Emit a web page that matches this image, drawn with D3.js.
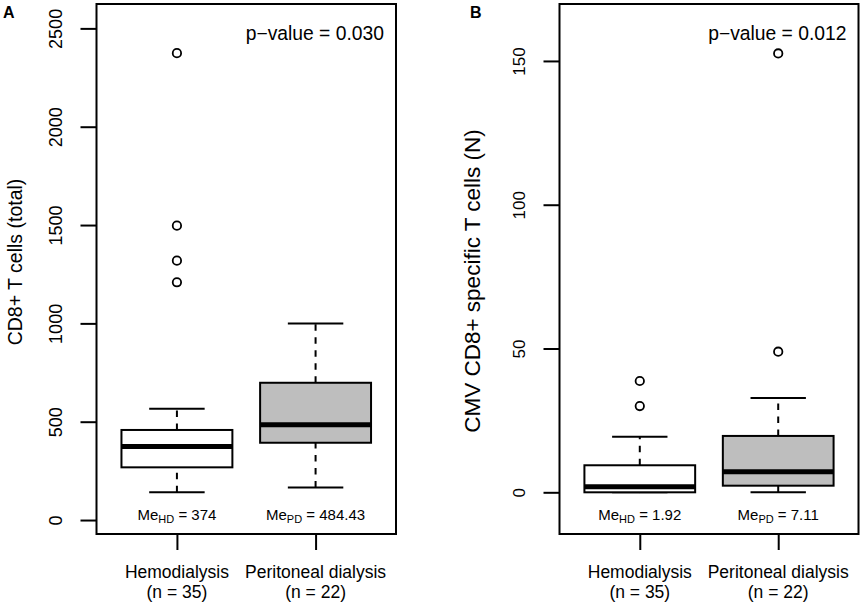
<!DOCTYPE html>
<html>
<head>
<meta charset="utf-8">
<script src="https://cdn.jsdelivr.net/npm/d3@7"></script>
<style>
  body { margin: 0; background: #fff; }
  svg { display: block; font-family: "Liberation Sans", Arial, sans-serif; }
</style>
</head>
<body>
<svg width="862" height="605"></svg>
<script>
// groups shared by both panels
const groups = ["Hemodialysis", "Peritoneal dialysis"];
const groupN = [35, 22];
const groupAbbr = ["HD", "PD"];

// panel A: CD8+ T cells (total), [low whisker, q1, median, q3, high whisker]
const totalStats = [
  [141, 268, 374, 458, 566],
  [166, 393, 484.43, 698, 1000]
];
const totalOutliers = [[2374, 1497, 1319, 1209], []];
const totalMedianLabels = ["374", "484.43"];
const totalTicks = [0, 500, 1000, 1500, 2000, 2500];

// panel B: CMV CD8+ specific T cells (N)
const cmvStats = [
  [0, 0, 1.92, 9.4, 19.3],
  [0, 2.3, 7.11, 19.6, 32.8]
];
const cmvOutliers = [[38.7, 30], [48.9, 152.6]];
const cmvMedianLabels = ["1.92", "7.11"];
const cmvTicks = [0, 50, 100, 150];

const svg = d3.select("svg");

function drawPanel(opt) {
  const top = 4, bottom = 534;
  const g = svg.append("g");

  const x = d3.scaleLinear().domain([0.42, 2.58]).range([opt.left, opt.right]);
  const y = d3.scaleLinear().domain(opt.yDomain).range([bottom, top]);
  const boxW = x(1.8) - x(1); // box width 0.8 units, like R boxplot
  const capW = boxW / 2;

  // y axis
  const yAxis = d3.axisLeft(y)
    .tickValues(opt.ticks)
    .tickFormat(d3.format("d"))
    .tickSize(16)
    .tickSizeOuter(0);
  const ya = g.append("g")
    .attr("transform", "translate(" + opt.left + ",0)")
    .call(yAxis);
  ya.select(".domain").remove();
  ya.selectAll("line").attr("stroke", "#000").attr("stroke-width", 2);
  ya.selectAll("text")
    .attr("transform", "rotate(-90)")
    .attr("x", 0)
    .attr("y", -34.5)
    .attr("dy", 0)
    .attr("text-anchor", "middle")
    .attr("fill", "#000")
    .style("font-size", opt.tickFont + "px")
    .style("font-family", "Liberation Sans, Arial, sans-serif");

  // x axis ticks
  const xa = g.append("g")
    .attr("transform", "translate(0," + bottom + ")")
    .call(d3.axisBottom(x).tickValues([1, 2]).tickSize(16).tickSizeOuter(0).tickFormat(""));
  xa.select(".domain").remove();
  xa.selectAll("line").attr("stroke", "#000").attr("stroke-width", 2);

  groups.forEach(function (name, i) {
    const lab = g.append("text")
      .attr("x", x(i + 1))
      .attr("y", 577.5)
      .attr("text-anchor", "middle")
      .style("font-size", "17.5px");
    lab.append("tspan").attr("x", x(i + 1)).text(name);
    lab.append("tspan").attr("x", x(i + 1)).attr("dy", 20.5).text("(n = " + groupN[i] + ")");
  });

  // boxes
  const boxes = g.selectAll(".box")
    .data(opt.stats)
    .enter()
    .append("g")
    .attr("class", "box");

  boxes.each(function (d, i) {
    const b = d3.select(this);
    const cx = x(i + 1);
    // whiskers
    [[d[0], d[1]], [d[3], d[4]]].forEach(function (w) {
      b.append("line")
        .attr("x1", cx).attr("x2", cx)
        .attr("y1", y(w[0])).attr("y2", y(w[1]))
        .attr("stroke", "#000").attr("stroke-width", 2)
        .attr("stroke-dasharray", "6.5,6.5");
    });
    [d[0], d[4]].forEach(function (v) {
      b.append("line")
        .attr("x1", cx - capW / 2).attr("x2", cx + capW / 2)
        .attr("y1", y(v)).attr("y2", y(v))
        .attr("stroke", "#000").attr("stroke-width", 2);
    });
    b.append("rect")
      .attr("x", cx - boxW / 2)
      .attr("y", y(d[3]))
      .attr("width", boxW)
      .attr("height", y(d[1]) - y(d[3]))
      .attr("fill", i === 0 ? "#fff" : "#bebebe")
      .attr("stroke", "#000").attr("stroke-width", 2);
    b.append("line")
      .attr("x1", cx - boxW / 2).attr("x2", cx + boxW / 2)
      .attr("y1", y(d[2])).attr("y2", y(d[2]))
      .attr("stroke", "#000").attr("stroke-width", 5);
  });

  // outliers
  opt.outliers.forEach(function (arr, i) {
    g.selectAll(null)
      .data(arr)
      .enter()
      .append("circle")
      .attr("cx", x(i + 1))
      .attr("cy", function (v) { return y(v); })
      .attr("r", 4.2)
      .attr("fill", "none")
      .attr("stroke", "#000")
      .attr("stroke-width", 1.8);
  });

  // median labels
  opt.medianLabels.forEach(function (m, i) {
    const t = g.append("text")
      .attr("x", x(i + 1))
      .attr("y", 519.5)
      .attr("text-anchor", "middle")
      .style("font-size", "15px");
    t.append("tspan").text("Me");
    t.append("tspan").attr("dy", 3.5).style("font-size", "11px").text(groupAbbr[i]);
    t.append("tspan").attr("dy", -3.5).text(" = " + m);
  });

  // frame
  g.append("rect")
    .attr("x", opt.left).attr("y", top)
    .attr("width", opt.right - opt.left).attr("height", bottom - top)
    .attr("fill", "none").attr("stroke", "#000").attr("stroke-width", 2);

  // p-value
  g.append("text")
    .attr("x", opt.right - 12)
    .attr("y", 39.5)
    .attr("text-anchor", "end")
    .style("font-size", "19.3px")
    .text("p\u2212value = " + opt.pValue);

  // y title
  g.append("text")
    .attr("transform", "translate(" + opt.titleX + "," + opt.titleY + ") rotate(-90)")
    .attr("text-anchor", "middle")
    .style("font-size", opt.titleFont + "px")
    .text(opt.title);

  // panel letter
  g.append("text")
    .attr("x", opt.letterX)
    .attr("y", 18)
    .style("font-size", "16px")
    .style("font-weight", "bold")
    .text(opt.letter);
}

drawPanel({
  left: 96.5, right: 396,
  yDomain: [-71, 2624],
  ticks: totalTicks, tickFont: 18,
  stats: totalStats, outliers: totalOutliers, medianLabels: totalMedianLabels,
  pValue: "0.030",
  title: "CD8+ T cells (total)", titleX: 22, titleY: 262, titleFont: 19.5,
  letter: "A", letterX: 3
});

drawPanel({
  left: 559.5, right: 858.5,
  yDomain: [-14.5, 169.8],
  ticks: cmvTicks, tickFont: 17,
  stats: cmvStats, outliers: cmvOutliers, medianLabels: cmvMedianLabels,
  pValue: "0.012",
  title: "CMV CD8+ specific T cells (N)", titleX: 480, titleY: 281, titleFont: 22.5,
  letter: "B", letterX: 470
});
</script>
</body>
</html>
